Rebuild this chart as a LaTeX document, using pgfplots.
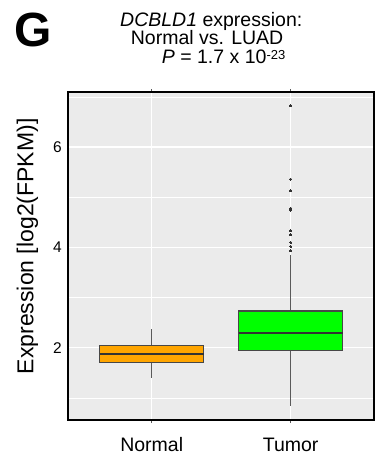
\documentclass[border=0pt]{standalone}
\usepackage{pgfplots}
\pgfplotsset{compat=1.18}
\usepgfplotslibrary{statistics}
\usepackage{fontspec}
\setmainfont{Liberation Sans}

\definecolor{panelgray}{HTML}{EBEBEB}
\definecolor{boxorange}{HTML}{FFA500}
\definecolor{boxgreen}{HTML}{00FF00}
\definecolor{boxedge}{HTML}{474747}
\definecolor{whiskergray}{HTML}{5A5A5A}
\definecolor{dotgray}{HTML}{333333}

\begin{document}
\begin{tikzpicture}
\useasboundingbox (-68.3pt,-38pt) rectangle (312.7pt,420pt);

\begin{axis}[
  scale only axis,
  width=305.7pt, height=327.7pt,
  at={(0pt,0pt)}, anchor=south west,
  xmin=0.4, xmax=2.6,
  ymin=0.56, ymax=7.09,
  axis background/.style={fill=panelgray},
  axis line style={black, line width=2pt},
  xtick={1,2}, xticklabels={Normal,Tumor},
  ytick={2,4,6},
  minor ytick={1,3,5,7},
  xmajorgrids, ymajorgrids, yminorgrids,
  major grid style={white, line width=1.1pt},
  minor grid style={white, line width=0.6pt},
  tick align=outside,
  major tick length=3pt,
  xtick style={draw=gray!70!black, line width=0.6pt},
  ytick style={draw=none},
  minor tick length=0pt,
  /pgf/number format/assume math mode=true,
  yticklabel style={font=\fontsize{15.5}{17}\selectfont, text=black},
  xticklabel style={font=\fontsize{19.5}{21}\selectfont, text=black, anchor=base, yshift=-28pt},
  every axis y label/.style={at={(axis description cs:0,0.53)}, xshift=-40.8pt,
    anchor=center, rotate=90, font=\fontsize{23}{25}\selectfont},
  ylabel={Expression [log2(FPKM)]},
  boxplot/draw direction=y,
  boxplot/box extend=0.75,
  boxplot/whisker extend=0,
  boxplot/every box/.style={draw=boxedge, line width=1.3pt},
  boxplot/every whisker/.style={draw=whiskergray, line width=1pt},
  boxplot/every median/.style={draw=dotgray, line width=1.8pt},
]

% Normal tissue
\addplot[boxplot prepared={draw position=1,
    lower whisker=1.40, lower quartile=1.71, median=1.87,
    upper quartile=2.04, upper whisker=2.37},
  fill=boxorange, mark=none]
  coordinates {};

% Tumor tissue, with outliers above the upper whisker
\addplot[boxplot prepared={draw position=2,
    lower whisker=0.84, lower quartile=1.95, median=2.30,
    upper quartile=2.73, upper whisker=3.85},
  fill=boxgreen, mark=*, mark size=1.1pt,
  mark options={draw=dotgray, fill=dotgray, line width=0pt}]
  table[row sep=\\, y index=0] {
    y\\ 6.82\\ 5.36\\ 5.13\\ 4.78\\ 4.76\\ 4.74\\ 4.33\\ 4.25\\ 4.10\\ 4.02\\ 3.93\\
  };
\end{axis}

% panel letter
\node[anchor=base west, inner sep=0pt, font=\fontsize{48}{48}\selectfont\bfseries]
  at (-53.6pt,373.3pt) {G};

% title
\node[anchor=base west, inner sep=0pt, font=\fontsize{19.5}{21}\selectfont]
  at (51.7pt,393.3pt) {\textit{DCBLD1} expression:};
\node[anchor=base west, inner sep=0pt, font=\fontsize{19.5}{21}\selectfont]
  at (62.4pt,375pt) {Normal vs. LUAD};
\node[anchor=base west, inner sep=0pt, font=\fontsize{19.5}{21}\selectfont]
  at (93.4pt,356.7pt) {\textit{P} = 1.7 x 10\raisebox{4pt}{\fontsize{13}{13}\selectfont -23}};
\end{tikzpicture}
\end{document}
